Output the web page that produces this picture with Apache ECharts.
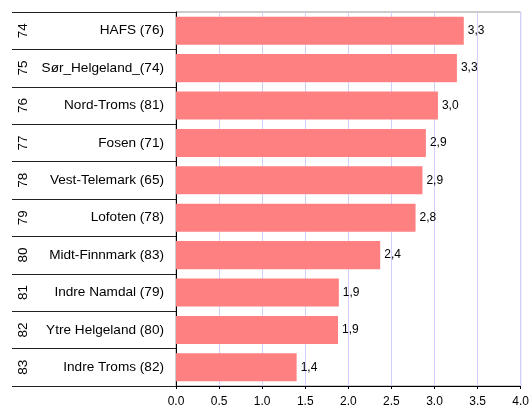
<!DOCTYPE html>
<html>
<head>
<meta charset="utf-8">
<script src="https://cdn.jsdelivr.net/npm/echarts@6/dist/echarts.min.js"></script>
<style>
  html, body { margin: 0; padding: 0; background: #fff; }
  #chart { width: 532px; height: 408px; }
</style>
</head>
<body>
<div id="chart"></div>
<script>
const categories = [
  'HAFS (76)', 'Sør_Helgeland_(74)', 'Nord-Troms (81)', 'Fosen (71)',
  'Vest-Telemark (65)', 'Lofoten (78)', 'Midt-Finnmark (83)',
  'Indre Namdal (79)', 'Ytre Helgeland (80)', 'Indre Troms (82)'
]
const ranks = ['74', '75', '76', '77', '78', '79', '80', '81', '82', '83']
const values = [3.34, 3.26, 3.04, 2.90, 2.86, 2.78, 2.37, 1.89, 1.88, 1.40]

const chart = echarts.init(document.getElementById('chart'), null, { renderer: 'canvas' })

const font = 'Arial, "Liberation Sans", sans-serif'

const option = {
  animation: false,
  grid: {
    left: 176,
    right: 8,
    top: 12,
    bottom: 22,
    show: true,
    borderColor: '#999',
    borderWidth: 1
  },
  xAxis: {
    type: 'value',
    min: 0,
    max: 4,
    interval: 0.5,
    axisLine: { show: true, lineStyle: { color: '#000', width: 1 } },
    axisTick: { show: true, length: 3, lineStyle: { color: '#000' } },
    axisLabel: {
      color: '#000',
      fontSize: 12,
      fontFamily: font,
      margin: 10,
      formatter: v => v.toFixed(1)
    },
    splitLine: { show: true, lineStyle: { color: '#d0d0ff', width: 1 } }
  },
  yAxis: [
    {
      type: 'category',
      data: categories,
      inverse: true,
      axisLine: { show: true, lineStyle: { color: '#000', width: 1 } },
      axisTick: { show: true, length: 164, lineStyle: { color: '#222', width: 1 } },
      axisLabel: {
        color: '#000',
        fontSize: 13.6,
        fontFamily: font,
        margin: 12
      }
    },
    {
      type: 'category',
      data: ranks,
      inverse: true,
      position: 'left',
      axisLine: { show: false },
      axisTick: { show: false },
      axisLabel: {
        color: '#000',
        fontSize: 13.5,
        fontFamily: font,
        rotate: 90,
        align: 'center',
        verticalAlign: 'middle',
        margin: 153
      }
    }
  ],
  series: [
    {
      type: 'bar',
      data: values,
      yAxisIndex: 0,
      barCategoryGap: '25%',
      itemStyle: { color: '#ff8080' },
      label: {
        show: true,
        position: 'right',
        distance: 4,
        color: '#000',
        fontSize: 12,
        fontFamily: font,
        formatter: p => p.value.toFixed(1).replace('.', ',')
      }
    }
  ]
}

chart.setOption(option)
</script>
</body>
</html>
